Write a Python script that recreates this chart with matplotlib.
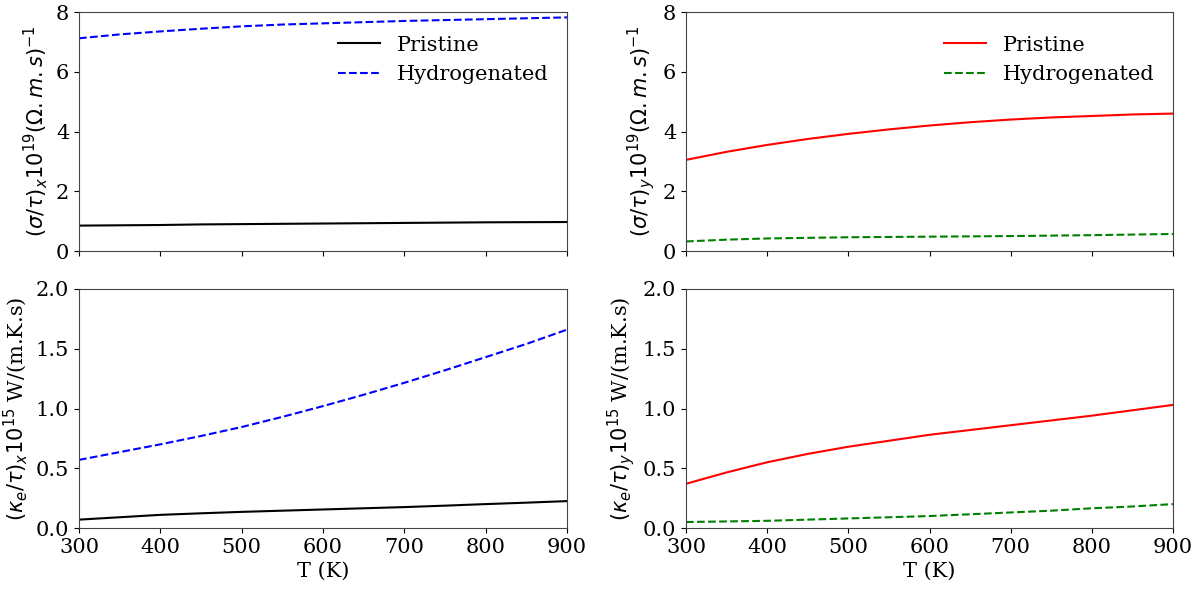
import numpy as np
import matplotlib
matplotlib.use('Agg')
import matplotlib.pyplot as plt

plt.rcParams['font.family'] = 'DejaVu Serif'
plt.rcParams['font.size'] = 15
plt.rcParams['axes.edgecolor'] = '#444444'

# Temperatura (K)
T = [300, 350, 400, 450, 500, 550, 600, 650, 700, 750, 800, 850, 900]

# sigma/tau direcao x
sig_x_pris = [0.85, 0.86, 0.87, 0.89, 0.90, 0.91, 0.92, 0.93, 0.94, 0.95, 0.96, 0.965, 0.97]
sig_x_hyd = [7.12, 7.25, 7.35, 7.44, 7.52, 7.58, 7.62, 7.66, 7.70, 7.73, 7.76, 7.79, 7.82]

# sigma/tau direcao y
sig_y_pris = [3.05, 3.32, 3.55, 3.75, 3.92, 4.07, 4.20, 4.31, 4.40, 4.47, 4.52, 4.57, 4.60]
sig_y_hyd = [0.32, 0.38, 0.42, 0.44, 0.46, 0.47, 0.48, 0.49, 0.50, 0.515, 0.53, 0.55, 0.57]

# kappa_e/tau direcao x
kap_x_pris = [0.07, 0.09, 0.11, 0.123, 0.135, 0.145, 0.155, 0.165, 0.175, 0.187, 0.20, 0.212, 0.225]
kap_x_hyd = [0.57, 0.635, 0.70, 0.77, 0.845, 0.93, 1.02, 1.115, 1.215, 1.32, 1.43, 1.54, 1.66]

# kappa_e/tau direcao y
kap_y_pris = [0.37, 0.465, 0.55, 0.62, 0.68, 0.73, 0.78, 0.82, 0.86, 0.90, 0.94, 0.985, 1.03]
kap_y_hyd = [0.05, 0.055, 0.06, 0.07, 0.08, 0.09, 0.10, 0.115, 0.13, 0.145, 0.165, 0.18, 0.20]

W, H = 1201, 590
fig = plt.figure(figsize=(W / 100, H / 100), dpi=100)

def eixo(x0, x1, y0, y1, sharex=None):
    return fig.add_axes([x0 / W, 1 - y1 / H, (x1 - x0) / W, (y1 - y0) / H], sharex=sharex)

ax00 = eixo(79, 567, 12, 251)
ax01 = eixo(686, 1173, 12, 251)
ax10 = eixo(79, 567, 289, 528, sharex=ax00)
ax11 = eixo(686, 1173, 289, 528, sharex=ax01)

ax = ax00
ax.plot(T, sig_x_pris, 'k-', lw=1.5, label='Pristine')
ax.plot(T, sig_x_hyd, 'b--', lw=1.5, label='Hydrogenated')
ax.set_ylim(0, 8)
ax.set_ylabel(r'$(\sigma/\tau)_x10^{19}(\Omega.m.s)^{-1}$')
ax.legend(frameon=False, loc='upper right', bbox_to_anchor=(1.0, 0.98))
ax.tick_params(labelbottom=False)

ax = ax01
ax.plot(T, sig_y_pris, 'r-', lw=1.5, label='Pristine')
ax.plot(T, sig_y_hyd, 'g--', lw=1.5, label='Hydrogenated')
ax.set_ylim(0, 8)
ax.set_ylabel(r'$(\sigma/\tau)_y10^{19}(\Omega.m.s)^{-1}$')
ax.legend(frameon=False, loc='upper right', bbox_to_anchor=(1.0, 0.98))
ax.tick_params(labelbottom=False)

ax = ax10
ax.plot(T, kap_x_pris, 'k-', lw=1.5)
ax.plot(T, kap_x_hyd, 'b--', lw=1.5)
ax.set_ylim(0, 2)
ax.set_ylabel(r'$(\kappa_e/\tau)_x10^{15}$ W/(m.K.s)')
ax.set_xlabel('T (K)')

ax = ax11
ax.plot(T, kap_y_pris, 'r-', lw=1.5)
ax.plot(T, kap_y_hyd, 'g--', lw=1.5)
ax.set_ylim(0, 2)
ax.set_ylabel(r'$(\kappa_e/\tau)_y10^{15}$ W/(m.K.s)')
ax.set_xlabel('T (K)')

for a in [ax00, ax01, ax10, ax11]:
    a.set_xlim(300, 900)
    a.set_xticks([300, 400, 500, 600, 700, 800, 900])
for a in [ax10, ax11]:
    a.set_yticks([0.0, 0.5, 1.0, 1.5, 2.0])

plt.savefig('out.png')
